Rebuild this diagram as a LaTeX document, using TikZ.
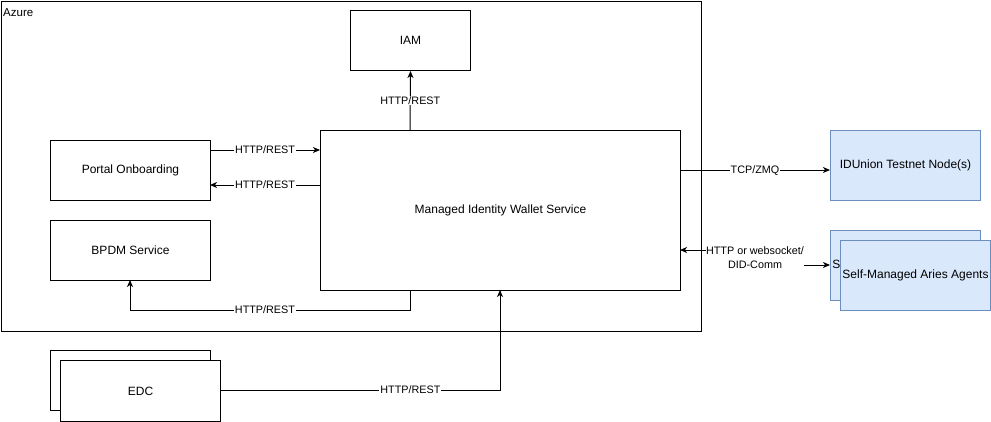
\documentclass[tikz,border=0pt]{standalone}
\usepackage{fontspec}
\setmainfont{Liberation Sans}
\usetikzlibrary{arrows.meta,positioning}
\definecolor{bluefill}{HTML}{DAE8FC}
\definecolor{bluedraw}{HTML}{6C8EBF}
\tikzset{
  box/.style={draw=black, line width=1pt, fill=white, inner sep=0pt, anchor=north west, align=center, font=\fontsize{12}{14}\selectfont},
  bluebox/.style={box, draw=bluedraw, fill=bluefill},
  conn/.style={line width=1pt, -{Stealth[length=7pt,width=6pt,inset=2pt]}},
  biconn/.style={line width=1pt, {Stealth[length=7pt,width=6pt,inset=2pt]}-{Stealth[length=7pt,width=6pt,inset=2pt]}},
  lbl/.style={fill=white, inner sep=1pt, align=center, font=\fontsize{10.8}{12}\selectfont},
}
\begin{document}
\begin{tikzpicture}[x=1pt,y=-1pt]
\useasboundingbox (0,0) rectangle (991,421);
% Azure frame
\node[box, minimum width=700pt, minimum height=330pt] (azure) at (0.5,0.5) {};
\node[anchor=north west, inner sep=0pt, font=\fontsize{11.5}{13}\selectfont] (azurelbl) at (3,8) {Azure};
% boxes
\node[box, minimum width=120pt, minimum height=60pt] (iam) at (350,10) {IAM};
\node[box, minimum width=160pt, minimum height=60pt] (portal) at (50,140) {Portal Onboarding};
\node[box, minimum width=160pt, minimum height=60pt] (bpdm) at (50,220) {BPDM Service};
\node[box, minimum width=360pt, minimum height=160pt] (miw) at (320,130) {Managed Identity Wallet Service};
\node[box, minimum width=160pt, minimum height=60pt] (edcback) at (50,350) {};
\node[box, minimum width=160pt, minimum height=61pt] (edc) at (60,360) {EDC};
\node[bluebox, minimum width=150pt, minimum height=70pt] (idunion) at (830,130) {IDUnion Testnet Node(s)};
\node[bluebox, minimum width=150pt, minimum height=70pt] (agentsback) at (830,230) {Self-Managed Aries Agents};
\node[bluebox, minimum width=150pt, minimum height=70pt] (agents) at (840,240) {Self-Managed Aries Agents};
% connectors
\coordinate (miwtop) at (410,130);
\draw[conn] (miwtop) -- node[lbl] {HTTP/REST} (iam.south);
\coordinate (pa) at (210,150);
\coordinate (pb) at (320,150);
\draw[conn] (pa) -- node[lbl] {HTTP/REST} (pb);
\coordinate (pc) at (320,185);
\coordinate (pd) at (210,185);
\draw[conn] (pc) -- node[lbl] {HTTP/REST} (pd);
\coordinate (mb) at (410,290);
\coordinate (bb) at (130,280);
\draw[conn] (mb) -- (410,310) -- node[lbl, pos=0.518] {HTTP/REST} (130,310) -- (bb);
\coordinate (ea) at (220,390);
\coordinate (mc) at (500,290);
\draw[conn] (ea) -- node[lbl, pos=0.68] {HTTP/REST} (500,390) -- (mc);
\coordinate (ma) at (680,170);
\coordinate (ia) at (830,170);
\draw[conn] (ma) -- node[lbl, pos=0.5, yshift=-1pt] {TCP/ZMQ} (ia);
\coordinate (md) at (680,250);
\coordinate (aa) at (830,265);
\draw[biconn] (md) -- (755,250) -- (755,265) -- (aa);
\node[lbl, inner sep=0.5pt, font=\fontsize{10.8}{14}\selectfont] (httplbl) at (755,257.5) {HTTP or websocket/\\DID-Comm};
\end{tikzpicture}
\end{document}
